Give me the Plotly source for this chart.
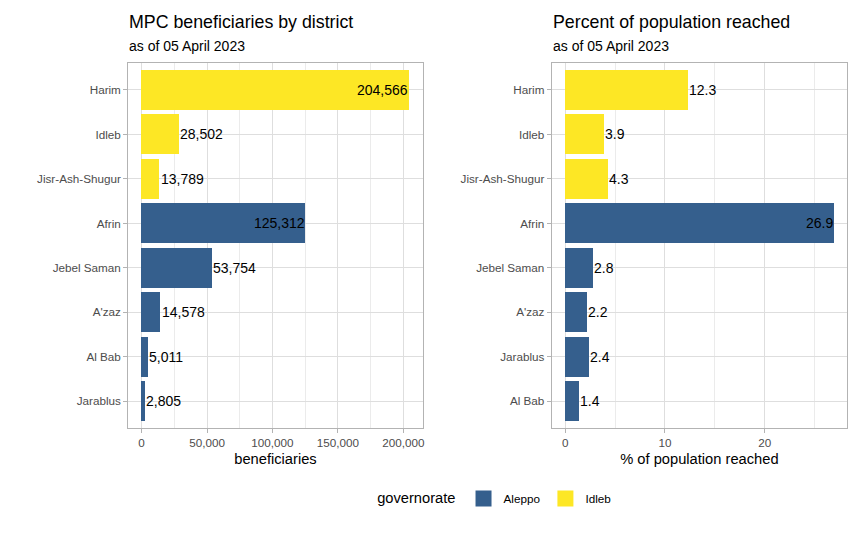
import plotly.graph_objects as go

# ---- data ----
districts_benef = ["Harim", "Idleb", "Jisr-Ash-Shugur", "Afrin", "Jebel Saman", "A'zaz", "Al Bab", "Jarablus"]
benef_values = [204566, 28502, 13789, 125312, 53754, 14578, 5011, 2805]
benef_gov = ["Idleb", "Idleb", "Idleb", "Aleppo", "Aleppo", "Aleppo", "Aleppo", "Aleppo"]

districts_pct = ["Harim", "Idleb", "Jisr-Ash-Shugur", "Afrin", "Jebel Saman", "A'zaz", "Jarablus", "Al Bab"]
pct_values = [12.3, 3.9, 4.3, 26.9, 2.8, 2.2, 2.4, 1.4]
pct_gov = ["Idleb", "Idleb", "Idleb", "Aleppo", "Aleppo", "Aleppo", "Aleppo", "Aleppo"]

governorates = ["Aleppo", "Idleb"]
gov_colors = {"Aleppo": "#355F8D", "Idleb": "#FDE725"}

benef_ticks = [0, 50000, 100000, 150000, 200000]
benef_ticklabels = ["0", "50,000", "100,000", "150,000", "200,000"]
pct_ticks = [0, 10, 20]

FONT = "Liberation Sans, Arial, sans-serif"
W, H = 864, 533

fig = go.Figure()

def add_bars(cats, vals, govs, xa, ya):
    for g in governorates:
        ys = [c for c, gg in zip(cats, govs) if gg == g]
        xs = [v for v, gg in zip(vals, govs) if gg == g]
        fig.add_trace(go.Bar(
            x=xs, y=ys, orientation="h", width=0.9,
            marker=dict(color=gov_colors[g], line=dict(width=0)),
            name=g, legendgroup=g, showlegend=False,
            xaxis=xa, yaxis=ya, hoverinfo="x+y",
        ))

add_bars(districts_benef, benef_values, benef_gov, "x", "y")
add_bars(districts_pct, pct_values, pct_gov, "x2", "y2")

# legend keys (square swatches like the ggplot legend)
for g in governorates:
    fig.add_trace(go.Scatter(
        x=[None], y=[None], mode="markers", name=g, legendgroup=g,
        marker=dict(symbol="square", size=16, color=gov_colors[g], line=dict(width=0)),
        xaxis="x", yaxis="y", showlegend=True, hoverinfo="skip",
    ))

annotations = []

def add_labels(cats, vals, fmt, xref, yref):
    vmax = max(vals)
    for c, v in zip(cats, vals):
        inside = v > 0.5 * vmax
        annotations.append(dict(
            x=v, y=c, xref=xref, yref=yref, text=fmt(v), showarrow=False,
            xanchor="right" if inside else "left", yanchor="middle",
            font=dict(family=FONT, size=14, color="black"), borderpad=0,
        ))

add_labels(districts_benef, benef_values, lambda v: f"{v:,}", "x", "y")
add_labels(districts_pct, pct_values, lambda v: f"{v:.1f}", "x2", "y2")

# titles
def py(px):
    return 1 - px / H

for xl, title, sub in [(128.5, "MPC beneficiaries by district", "as of 05 April 2023"),
                       (553, "Percent of population reached", "as of 05 April 2023")]:
    annotations.append(dict(x=xl / W, y=py(22.5), xref="paper", yref="paper", text=title,
                            showarrow=False, xanchor="left", yanchor="middle", xshift=-1,
                            font=dict(family=FONT, size=17.8, color="black")))
    annotations.append(dict(x=xl / W, y=py(46), xref="paper", yref="paper", text=sub,
                            showarrow=False, xanchor="left", yanchor="middle", xshift=-1,
                            font=dict(family=FONT, size=14, color="black")))

def rng(vals):
    m = max(vals)
    return [-0.05 * m, 1.05 * m]

common_x = dict(
    showgrid=True, gridcolor="#DEDEDE", gridwidth=1,
    zeroline=False, showline=True, mirror=True, linecolor="#B3B3B3", linewidth=1,
    ticks="outside", ticklen=4, tickcolor="#B3B3B3", tickwidth=1,
    tickfont=dict(family=FONT, size=11.7, color="#4D4D4D"),
    title_font=dict(family=FONT, size=14.7, color="black"), title_standoff=5,
)
common_y = dict(
    type="category", showgrid=True, gridcolor="#DEDEDE", gridwidth=1,
    zeroline=False, showline=True, mirror=True, linecolor="#B3B3B3", linewidth=1,
    ticks="outside", ticklen=4, tickcolor="#B3B3B3", tickwidth=1,
    tickfont=dict(family=FONT, size=11.7, color="#4D4D4D"),
    range=[len(districts_benef) - 0.4, -0.6],
)

fig.update_layout(
    width=W, height=H, margin=dict(l=0, r=0, t=0, b=0),
    paper_bgcolor="white", plot_bgcolor="white",
    barmode="overlay", bargap=0,
    font=dict(family=FONT),
    xaxis=dict(domain=[128.5 / W, 423.7 / W], anchor="y", range=rng(benef_values),
               tickvals=benef_ticks, ticktext=benef_ticklabels, title_text="beneficiaries",
               minor=dict(showgrid=True, gridcolor="#EBEBEB", gridwidth=0.6, dtick=25000, tick0=0),
               **common_x),
    yaxis=dict(domain=[py(428), py(63.3)], anchor="x", categoryorder="array",
               categoryarray=districts_benef, **common_y),
    xaxis2=dict(domain=[553 / W, 849 / W], anchor="y2", range=rng(pct_values),
                tickvals=pct_ticks, title_text="% of population reached",
                minor=dict(showgrid=True, gridcolor="#EBEBEB", gridwidth=0.6, dtick=5, tick0=0),
                **common_x),
    yaxis2=dict(domain=[py(428), py(63.3)], anchor="x2", categoryorder="array",
                categoryarray=districts_pct, **common_y),
    legend=dict(orientation="h", x=376 / W, xanchor="left", y=py(499), yanchor="middle",
                itemsizing="trace", itemwidth=30,
                title=dict(text="governorate", font=dict(family=FONT, size=14.7, color="black"), side="left"),
                font=dict(family=FONT, size=11.7, color="black"), traceorder="normal"),
    annotations=annotations,
    showlegend=True,
)

fig.write_html("out.html", config={"displayModeBar": False},
               post_script="document.body.style.margin='0px';")
